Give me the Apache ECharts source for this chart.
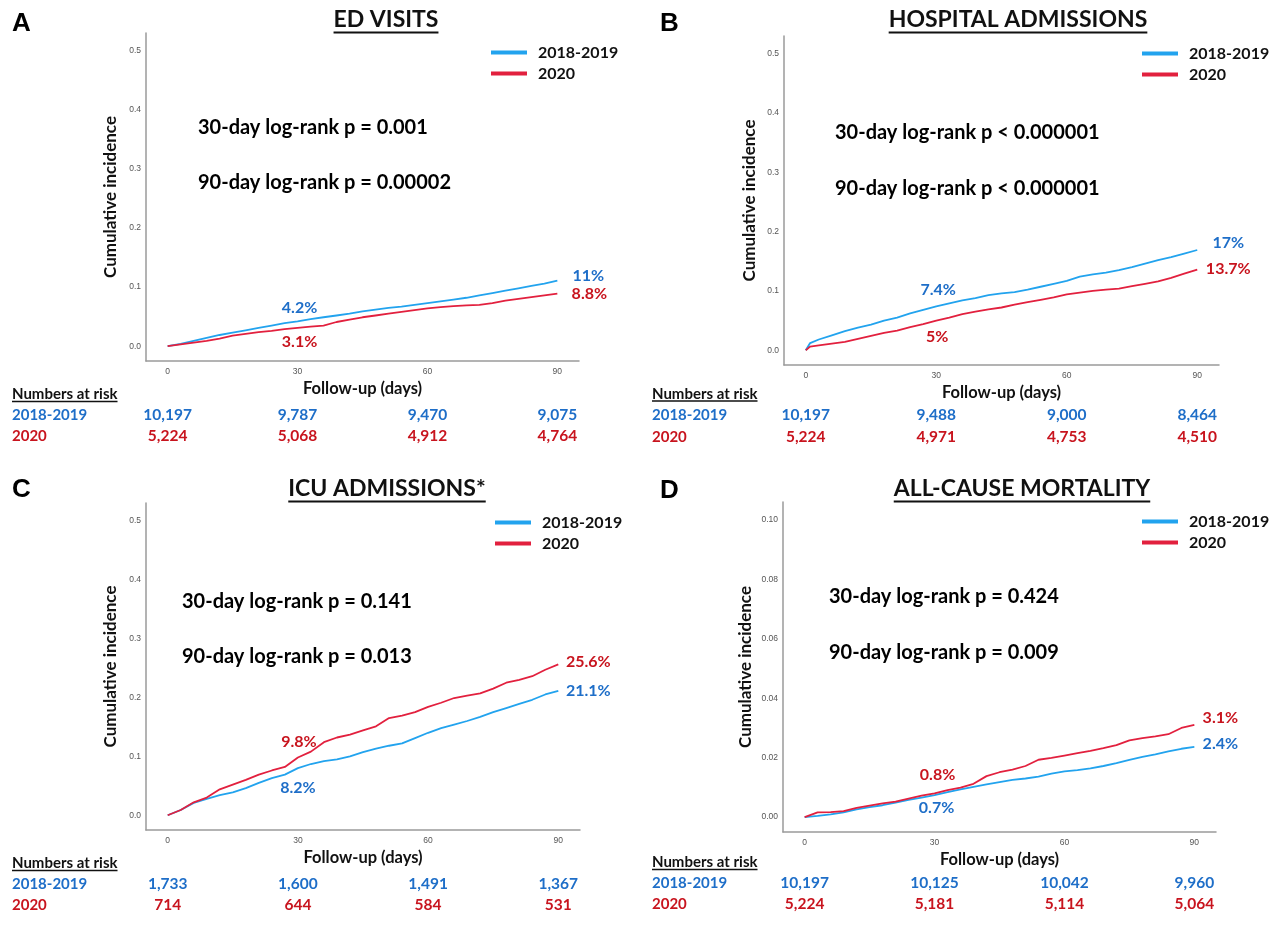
<!DOCTYPE html>
<html><head><meta charset="utf-8">
<script src="https://cdn.jsdelivr.net/npm/echarts@6/dist/echarts.min.js"></script>
<style>html,body{margin:0;padding:0;background:#fff}#c{width:1279px;height:930px}</style>
</head><body><div id="c"></div>
<script>
// ---------------- DATA ----------------
const seriesNames = ['2018-2019', '2020'];
const xTickValues = [0, 30, 60, 90];
const yTicksMain = [0, 0.1, 0.2, 0.3, 0.4, 0.5];
const yTicksMort = [0, 0.02, 0.04, 0.06, 0.08, 0.10];
const riskDays = [0, 30, 60, 90];

const daysStd  = [0,3,6,9,12,15,18,21,24,27,30,33,36,39,42,45,48,51,54,57,60,63,66,69,72,75,78,81,84,87,90];
const daysHosp = [0,1,3,6,9,12,15,18,21,24,27,30,33,36,39,42,45,48,51,54,57,60,63,66,69,72,75,78,81,84,87,90];

const edBlue = [0,0.004,0.009,0.014,0.019,0.023,0.027,0.031,0.035,0.039,0.042,0.046,0.049,0.052,0.055,0.059,0.062,0.065,0.067,0.070,0.073,0.076,0.079,0.082,0.086,0.090,0.094,0.098,0.102,0.106,0.111];
const edRed  = [0,0.003,0.006,0.009,0.013,0.018,0.021,0.024,0.026,0.029,0.031,0.033,0.035,0.041,0.045,0.049,0.052,0.055,0.058,0.061,0.064,0.066,0.068,0.069,0.070,0.073,0.077,0.080,0.083,0.086,0.089];

const hospBlue = [0,0.012,0.018,0.025,0.032,0.038,0.043,0.050,0.055,0.062,0.068,0.074,0.079,0.084,0.088,0.093,0.096,0.098,0.102,0.107,0.112,0.117,0.124,0.128,0.131,0.135,0.140,0.146,0.152,0.157,0.163,0.169];
const hospRed  = [0,0.006,0.008,0.011,0.014,0.019,0.024,0.029,0.033,0.039,0.044,0.050,0.055,0.061,0.065,0.069,0.072,0.077,0.081,0.085,0.089,0.094,0.097,0.100,0.102,0.104,0.108,0.112,0.116,0.122,0.129,0.136];

const icuBlue = [0,0.009,0.021,0.028,0.034,0.039,0.046,0.055,0.063,0.069,0.080,0.087,0.092,0.095,0.100,0.107,0.113,0.118,0.122,0.131,0.140,0.148,0.154,0.160,0.167,0.175,0.182,0.189,0.196,0.205,0.211];
const icuRed  = [0,0.009,0.022,0.030,0.044,0.052,0.060,0.069,0.076,0.082,0.098,0.108,0.124,0.132,0.137,0.144,0.151,0.165,0.169,0.175,0.184,0.191,0.199,0.203,0.207,0.215,0.225,0.230,0.236,0.247,0.256];

const mortBlue = [0,0.0004,0.0009,0.0016,0.0026,0.0034,0.0040,0.0049,0.0058,0.0066,0.0074,0.0084,0.0093,0.0102,0.0110,0.0118,0.0125,0.0130,0.0136,0.0146,0.0154,0.0158,0.0164,0.0172,0.0182,0.0193,0.0203,0.0211,0.0221,0.0230,0.0236];
const mortRed  = [0,0.0016,0.0017,0.0020,0.0031,0.0039,0.0046,0.0052,0.0062,0.0072,0.0080,0.0091,0.0099,0.0112,0.0138,0.0151,0.0160,0.0172,0.0193,0.0199,0.0207,0.0215,0.0223,0.0232,0.0242,0.0258,0.0266,0.0272,0.0279,0.0300,0.0310];

const edRiskBlue   = [10197, 9787, 9470, 9075];
const edRiskRed    = [5224, 5068, 4912, 4764];
const hospRiskBlue = [10197, 9488, 9000, 8464];
const hospRiskRed  = [5224, 4971, 4753, 4510];
const icuRiskBlue  = [1733, 1600, 1491, 1367];
const icuRiskRed   = [714, 644, 584, 531];
const mortRiskBlue = [10197, 10125, 10042, 9960];
const mortRiskRed  = [5224, 5181, 5114, 5064];

const titles  = ['ED VISITS', 'HOSPITAL ADMISSIONS', 'ICU ADMISSIONS*', 'ALL-CAUSE MORTALITY'];
const letters = ['A', 'B', 'C', 'D'];
const pText30 = ['30-day log-rank p = 0.001', '30-day log-rank p < 0.000001', '30-day log-rank p = 0.141', '30-day log-rank p = 0.424'];
const pText90 = ['90-day log-rank p = 0.00002', '90-day log-rank p < 0.000001', '90-day log-rank p = 0.013', '90-day log-rank p = 0.009'];
const pctBlue30 = ['4.2%', '7.4%', '8.2%', '0.7%'];
const pctRed30  = ['3.1%', '5%', '9.8%', '0.8%'];
const pctBlue90 = ['11%', '17%', '21.1%', '2.4%'];
const pctRed90  = ['8.8%', '13.7%', '25.6%', '3.1%'];
const riskHeader = 'Numbers at risk';
const xName = 'Follow-up (days)';
const yName = 'Cumulative incidence';

// ---------------- STYLE / LAYOUT ----------------
const BLUE_LINE = '#22A3EE', RED_LINE = '#E2203E';
const BLUE_TXT = '#1E6EC8', RED_TXT = '#C8141E';
const FONT = 'Lato';
const CLEAR = 'rgba(0,0,0,0)';

const panels = [
  {days: daysStd, blue: edBlue, red: edRed, rb: edRiskBlue, rr: edRiskRed, yTicks: yTicksMain, yMin: -0.025, yMax: 0.53, dec: 1,
   grid: {left: 146, top: 33, width: 433, height: 328}, risk: {top: 404.5, height: 42}, rowLabelX: 12, yGap: 27,
   legend: {left: 491, top: 44}, title: [386, 20], letter: [12, 24], ptext: [198, 128, 183],
   off: [[2, -14], [2, 14], [31, -5], [32, 0]]},
  {days: daysHosp, blue: hospBlue, red: hospRed, rb: hospRiskBlue, rr: hospRiskRed, yTicks: yTicksMain, yMin: -0.025, yMax: 0.53, dec: 1,
   grid: {left: 784, top: 36, width: 435, height: 329}, risk: {top: 404, height: 44}, rowLabelX: 652, yGap: 26,
   legend: {left: 1142, top: 45}, title: [1018, 20], letter: [660, 24], ptext: [835, 133, 189],
   off: [[2, -16], [1, 16], [31, -7], [31, -1]]},
  {days: daysStd, blue: icuBlue, red: icuRed, rb: icuRiskBlue, rr: icuRiskRed, yTicks: yTicksMain, yMin: -0.025, yMax: 0.53, dec: 1,
   grid: {left: 146, top: 503, width: 434, height: 327}, risk: {top: 873.5, height: 42}, rowLabelX: 12, yGap: 27,
   legend: {left: 495, top: 514}, title: [387, 489], letter: [12, 490], ptext: [182, 602, 657],
   off: [[0, 20], [1, -16], [30, 0], [30, -3]]},
  {days: daysStd, blue: mortBlue, red: mortRed, rb: mortRiskBlue, rr: mortRiskRed, yTicks: yTicksMort, yMin: -0.005, yMax: 0.106, dec: 2,
   grid: {left: 783, top: 502, width: 433, height: 330}, risk: {top: 872.5, height: 42}, rowLabelX: 652, yGap: 29,
   legend: {left: 1142, top: 513}, title: [1022, 489], letter: [660, 491], ptext: [829, 597, 653],
   off: [[2, 13], [3, -19], [26, -3], [26, -7]]}
];
const pctLabels = [pctBlue30, pctRed30, pctBlue90, pctRed90];

const measure = (() => {
  const ctx = document.createElement('canvas').getContext('2d');
  return (t, f) => { ctx.font = f; return ctx.measureText(t).width; };
})();

const grid = [], xAxis = [], yAxis = [], series = [], legend = [], graphic = [];
const axisLineStyle = {show: true, onZero: false, lineStyle: {color: '#9a9a9a', width: 1.5}};
const plainLabel = {show: true, position: 'inside', textBorderWidth: 0, textShadowBlur: 0, opacity: 1,
  fontFamily: FONT, fontWeight: 'bold'};

panels.forEach((p, i) => {
  const gMain = 2 * i, gRisk = 2 * i + 1;
  grid.push(Object.assign({}, p.grid));
  grid.push({left: p.grid.left, width: p.grid.width, top: p.risk.top, height: p.risk.height});

  xAxis.push({type: 'value', gridIndex: gMain, min: -5, max: 95,
    axisLine: axisLineStyle, axisTick: {show: false}, splitLine: {show: false},
    axisLabel: {customValues: xTickValues, margin: 6, fontSize: 8.5, color: '#555', fontFamily: 'Liberation Sans'},
    name: xName, nameLocation: 'middle', nameGap: 19,
    nameTextStyle: {fontFamily: FONT, fontWeight: 'bold', fontSize: 16.5, color: '#111'}});
  xAxis.push({type: 'value', gridIndex: gRisk, min: -5, max: 95, show: false});

  yAxis.push({type: 'value', gridIndex: gMain, min: p.yMin, max: p.yMax,
    axisLine: axisLineStyle, axisTick: {show: false}, splitLine: {show: false},
    axisLabel: {customValues: p.yTicks, margin: 5, fontSize: 8.5, color: '#555', fontFamily: 'Liberation Sans',
      formatter: v => v.toFixed(p.dec)},
    name: yName, nameLocation: 'middle', nameGap: p.yGap, nameRotate: 90,
    nameTextStyle: {fontFamily: FONT, fontWeight: 'bold', fontSize: 17, color: '#111'}});
  yAxis.push({type: 'category', gridIndex: gRisk, data: ['2020', '2018-2019'],
    axisLine: {show: false}, axisTick: {show: false}, splitLine: {show: false},
    axisLabel: {align: 'left', margin: p.grid.left - p.rowLabelX, fontFamily: FONT, fontWeight: 'bold', fontSize: 15,
      color: v => v === '2020' ? RED_TXT : BLUE_TXT}});

  const mk = arr => p.days.map((d, k) => [d, arr[k]]);
  series.push({type: 'line', name: seriesNames[0], xAxisIndex: gMain, yAxisIndex: gMain, data: mk(p.blue),
    showSymbol: false, symbol: 'none', lineStyle: {width: 1.8, color: BLUE_LINE}, itemStyle: {color: BLUE_LINE}, z: 3});
  series.push({type: 'line', name: seriesNames[1], xAxisIndex: gMain, yAxisIndex: gMain, data: mk(p.red),
    showSymbol: false, symbol: 'none', lineStyle: {width: 1.8, color: RED_LINE}, itemStyle: {color: RED_LINE}, z: 4});

  // percentage labels anchored on the curves at day 30 and day 90
  const at = (arr, day) => arr[p.days.indexOf(day)];
  const anchors = [[30, at(p.blue, 30), BLUE_TXT], [30, at(p.red, 30), RED_TXT], [90, at(p.blue, 90), BLUE_TXT], [90, at(p.red, 90), RED_TXT]];
  series.push({type: 'scatter', name: 'pct' + i, xAxisIndex: gMain, yAxisIndex: gMain, symbolSize: 1,
    itemStyle: {color: CLEAR}, silent: true, z: 5,
    data: anchors.map((a, k) => ({value: [a[0], a[1]],
      label: Object.assign({}, plainLabel, {formatter: pctLabels[k][i], offset: p.off[k], color: a[2], fontSize: 16})}))});

  // numbers at risk
  const riskRow = (vals, row, col) => ({type: 'scatter', name: 'risk' + row + i, xAxisIndex: gRisk, yAxisIndex: gRisk,
    symbolSize: 1, itemStyle: {color: CLEAR}, silent: true,
    data: riskDays.map((d, k) => [d, row, vals[k]]),
    label: Object.assign({}, plainLabel, {color: col, fontSize: 15.5,
      formatter: q => q.value[2].toLocaleString('en-US')})});
  series.push(riskRow(p.rb, '2018-2019', BLUE_TXT));
  series.push(riskRow(p.rr, '2020', RED_TXT));

  legend.push({left: p.legend.left, top: p.legend.top, orient: 'vertical', data: seriesNames, padding: 0,
    icon: 'rect', itemWidth: 36, itemHeight: 4, itemGap: 4, selectedMode: false,
    textStyle: {fontFamily: FONT, fontWeight: 'bold', fontSize: 16, lineHeight: 17, color: '#111', padding: [0, 0, 0, 6]}});

  // title + underline
  const tFont = 'bold 23px ' + FONT;
  const tw = measure(titles[i], tFont);
  graphic.push({type: 'text', x: p.title[0], y: p.title[1],
    style: {text: titles[i], font: tFont, fill: '#111', align: 'center', verticalAlign: 'middle'}});
  graphic.push({type: 'line', shape: {x1: p.title[0] - tw / 2, y1: p.title[1] + 12.5, x2: p.title[0] + tw / 2, y2: p.title[1] + 12.5},
    style: {stroke: '#111', lineWidth: 2}});
  // panel letter
  graphic.push({type: 'text', x: p.letter[0], y: p.letter[1],
    style: {text: letters[i], font: 'bold 26px "Liberation Sans"', fill: '#000', align: 'left', verticalAlign: 'middle'}});
  // log-rank texts
  graphic.push({type: 'text', x: p.ptext[0], y: p.ptext[1],
    style: {text: pText30[i], font: 'bold 20px ' + FONT, fill: '#000', align: 'left', verticalAlign: 'middle'}});
  graphic.push({type: 'text', x: p.ptext[0], y: p.ptext[2],
    style: {text: pText90[i], font: 'bold 20px ' + FONT, fill: '#000', align: 'left', verticalAlign: 'middle'}});
  // "Numbers at risk" header
  const hFont = 'bold 15px ' + FONT;
  const hy = p.risk.top - 10;
  const hw = measure(riskHeader, hFont);
  graphic.push({type: 'text', x: p.rowLabelX, y: hy,
    style: {text: riskHeader, font: hFont, fill: '#111', align: 'left', verticalAlign: 'middle'}});
  graphic.push({type: 'line', shape: {x1: p.rowLabelX, y1: hy + 7, x2: p.rowLabelX + hw, y2: hy + 7},
    style: {stroke: '#111', lineWidth: 1.3}});
});

const chart = echarts.init(document.getElementById('c'), null, {renderer: 'canvas'});
chart.setOption({
  animation: false,
  backgroundColor: '#fff',
  textStyle: {fontFamily: FONT},
  grid, xAxis, yAxis, series, legend, graphic
});
</script>
</body></html>
